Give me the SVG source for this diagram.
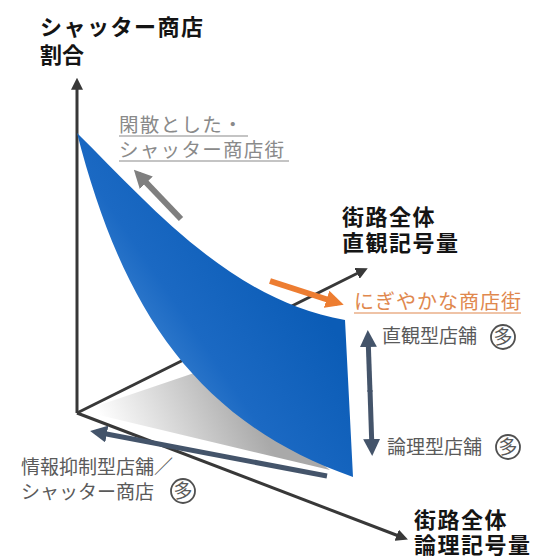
<svg xmlns="http://www.w3.org/2000/svg" width="541" height="556" viewBox="0 0 541 556">
<defs>
<style>
.title{font-family:"Noto Sans CJK JP","Noto Sans",sans-serif;font-weight:bold;fill:#141414;}
.gray{font-family:"Noto Sans CJK JP","Noto Sans",sans-serif;fill:#8a8a8a;font-size:19.5px;letter-spacing:1.3px;}
.orange{font-family:"Noto Sans CJK JP","Noto Sans",sans-serif;fill:#e0884e;font-size:20px;letter-spacing:1px;}
.lbl{font-family:"Noto Sans CJK JP","Noto Sans",sans-serif;fill:#5a5a5a;font-size:19px;}
.axis{stroke:#383838;stroke-width:3;fill:none;}
.slate{stroke:#44546a;stroke-width:5;fill:none;}
.circ{fill:none;stroke:#505050;stroke-width:1.8;}
</style>
<marker id="ah" markerWidth="4" markerHeight="4" refX="2.6" refY="2" orient="auto" markerUnits="strokeWidth">
<path d="M0,0 L4,2 L0,4 z" fill="#383838"/>
</marker>
<marker id="sh" markerWidth="3.4" markerHeight="3.4" refX="2.2" refY="1.7" orient="auto" markerUnits="strokeWidth">
<path d="M0,0 L3.4,1.7 L0,3.4 z" fill="#44546a"/>
</marker>
<marker id="oh" markerWidth="3" markerHeight="3" refX="2" refY="1.5" orient="auto" markerUnits="strokeWidth">
<path d="M0,0 L3,1.5 L0,3 z" fill="#ed7d31"/>
</marker>
<marker id="gh" markerWidth="3" markerHeight="3" refX="2" refY="1.5" orient="auto" markerUnits="strokeWidth">
<path d="M0,0 L3,1.5 L0,3 z" fill="#7f7f7f"/>
</marker>
<linearGradient id="blue" gradientUnits="userSpaceOnUse" x1="130" y1="440" x2="320" y2="310">
<stop offset="0" stop-color="#5597dc"/>
<stop offset="0.5" stop-color="#1b69c3"/>
<stop offset="1" stop-color="#0b5cb6"/>
</linearGradient>
<linearGradient id="shadow" gradientUnits="userSpaceOnUse" x1="110" y1="440" x2="240" y2="380">
<stop offset="0" stop-color="#ffffff"/>
<stop offset="1" stop-color="#a9a9a9"/>
</linearGradient>
</defs>

<g id="shadow-area">
<polygon points="82,411 200,371 330,470" fill="url(#shadow)"/>
</g>

<g id="connectors">
<line id="axis-y" class="axis" x1="77" y1="413" x2="77" y2="82" marker-end="url(#ah)"/>
<line id="axis-intuitive" class="axis" x1="77" y1="413" x2="364" y2="270" marker-end="url(#ah)"/>
<line id="axis-logical" class="axis" x1="77" y1="413" x2="404" y2="538" marker-end="url(#ah)"/>
</g>

<g id="surface">
<path d="M77,133 C150,205 230,300 345,320 L353,477 C190,420 120,300 77,133 Z" fill="url(#blue)"/>
</g>

<g id="arrows">
<line id="arrow-shutter" x1="181" y1="219" x2="138" y2="174" stroke="#7f7f7f" stroke-width="6" marker-end="url(#gh)"/>
<line id="arrow-lively" x1="270" y1="281" x2="338" y2="303" stroke="#ed7d31" stroke-width="6" marker-end="url(#oh)"/>
<line id="arrow-vertical-up" class="slate" x1="370" y1="392" x2="368" y2="336" marker-end="url(#sh)"/>
<line id="arrow-vertical-down" class="slate" x1="370" y1="390" x2="372" y2="450" marker-end="url(#sh)"/>
<line id="arrow-info" class="slate" x1="327" y1="476" x2="96" y2="432" marker-end="url(#sh)"/>
</g>

<g id="label-y-axis">
<text class="title" x="40" y="35" font-size="22" letter-spacing="1.5">シャッター商店</text>
<text class="title" x="40" y="63" font-size="22">割合</text>
</g>

<g id="label-shutter">
<text class="gray" x="119" y="132">閑散とした・</text>
<line x1="119" y1="136" x2="248" y2="136" stroke="#8a8a8a" stroke-width="1.2"/>
<text class="gray" x="119" y="157">シャッター商店街</text>
<line x1="119" y1="161" x2="289" y2="161" stroke="#8a8a8a" stroke-width="1.2"/>
</g>

<g id="label-intuitive-axis">
<text class="title" x="342" y="225" font-size="22" letter-spacing="1.5">街路全体</text>
<text class="title" x="342" y="251" font-size="22" letter-spacing="1.5">直観記号量</text>
</g>

<g id="label-lively">
<text class="orange" x="354" y="309">にぎやかな商店街</text>
<line x1="354" y1="313" x2="521" y2="313" stroke="#e0884e" stroke-width="1.2"/>
</g>

<g id="label-intuitive-store">
<text class="lbl" x="382" y="343">直観型店舗</text>
<circle class="circ" cx="503" cy="337" r="12"/>
<text class="lbl" x="503" y="343.5" font-size="16" text-anchor="middle">多</text>
</g>

<g id="label-logical-store">
<text class="lbl" x="387" y="454">論理型店舗</text>
<circle class="circ" cx="508" cy="447" r="12"/>
<text class="lbl" x="508" y="453.5" font-size="16" text-anchor="middle">多</text>
</g>

<g id="label-info-store">
<text class="lbl" x="21" y="474">情報抑制型店舗／</text>
<text class="lbl" x="21" y="499">シャッター商店</text>
<circle class="circ" cx="183" cy="491" r="12"/>
<text class="lbl" x="183" y="497.5" font-size="16" text-anchor="middle">多</text>
</g>

<g id="label-logical-axis">
<text class="title" x="414" y="528" font-size="22" letter-spacing="1.5">街路全体</text>
<text class="title" x="414" y="553" font-size="22" letter-spacing="1.5">論理記号量</text>
</g>
</svg>
